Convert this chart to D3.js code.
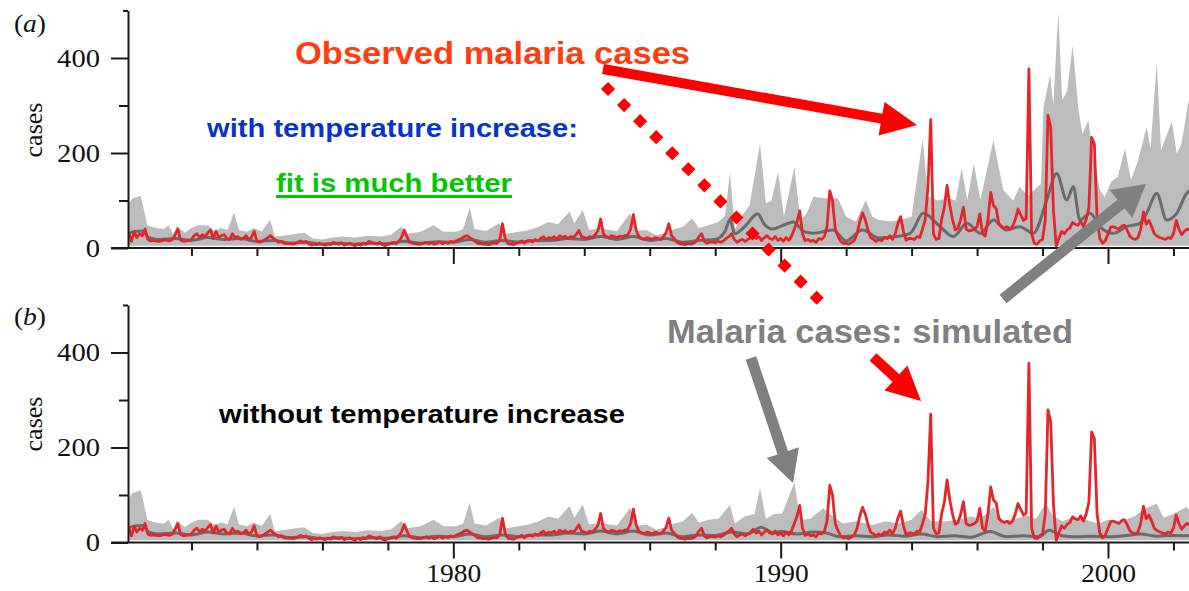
<!DOCTYPE html>
<html><head><meta charset="utf-8">
<script src="https://cdn.jsdelivr.net/npm/d3@7"></script>
<style>body{margin:0;background:#fff}svg{display:block}</style>
</head><body>
<svg id="chart" width="1189" height="591"></svg>
<script>
// ---------- DATA ----------
const startYear = 1970;               // observed series: monthly values from Jan 1970
const observed = [
  20,32,14,34,22,30,26,40,18,15,16,15,   // 1970
  14,15,17,16,15,18,28,40,17,14,15,16,   // 1971
  18,26,30,22,28,24,32,38,20,35,22,26,   // 1972
  28,20,18,30,22,24,18,20,26,18,22,35,   // 1973
  14,12,14,18,22,26,20,16,12,14,10,9,    // 1974
  10,8,9,12,15,12,14,9,6,8,7,10,         // 1975
  8,6,9,7,12,10,8,11,6,8,10,7,           // 1976
  5,9,6,10,8,14,12,10,8,12,7,5,          // 1977
  8,10,12,9,14,22,38,24,12,10,9,8,       // 1978
  8,10,12,9,11,8,10,13,9,12,10,14,       // 1979
  12,15,18,20,24,26,22,18,14,10,9,8,     // 1980
  8,7,9,11,10,16,51,20,9,8,7,10,         // 1981
  12,15,10,14,16,13,18,15,20,24,18,22,   // 1982
  20,24,18,26,22,25,20,24,22,28,37,24,   // 1983
  22,20,24,22,28,36,61,30,24,22,26,24,   // 1984
  22,25,24,26,28,40,70,38,24,20,18,22,   // 1985
  20,18,22,20,18,24,32,51,26,20,12,9,    // 1986
  8,7,9,8,10,14,24,30,14,10,12,13,       // 1987
  11,14,12,15,20,24,30,18,12,16,18,14,   // 1988
  18,22,28,20,24,16,22,26,20,18,24,16,   // 1989
  20,14,22,16,25,40,55,78,30,15,18,14,   // 1990
  16,12,20,18,24,45,120,100,40,25,14,10, // 1991
  10,8,12,16,30,55,74,60,38,22,18,14,    // 1992
  18,15,22,20,26,18,30,52,66,35,16,20,   // 1993
  20,18,24,22,40,60,128,270,30,18,20,60, // 1994
  85,132,90,60,38,42,60,86,40,36,37,40,  // 1995
  45,72,30,25,60,117,90,83,50,45,42,45,  // 1996
  40,45,60,82,70,58,62,377,30,10,8,15,   // 1997
  18,60,279,254,80,5,20,35,30,38,42,54,  // 1998
  50,48,56,45,60,85,233,219,60,20,10,15, // 1999
  30,44,45,42,40,46,48,38,25,20,18,22,   // 2000
  40,76,50,58,45,30,25,22,20,18,22,20,   // 2001
  30,58,40,28,35,40,38                   // 2002
];

// simulated band (upper bound), shared part 1970-1987
const upperEarly = [[1970.0,60],[1970.05,92],[1970.2,104],[1970.45,110],[1970.55,80],[1970.65,48],[1970.9,42],[1971.15,40],[1971.3,48],[1971.45,28],[1971.55,46],[1971.8,32],[1972.0,42],[1972.2,48],[1972.5,48],[1972.7,36],[1972.9,42],[1973.1,38],[1973.3,75],[1973.45,38],[1973.7,34],[1973.9,42],[1974.15,35],[1974.4,60],[1974.55,24],[1974.8,26],[1975.2,30],[1975.45,32],[1975.7,20],[1976.0,18],[1976.3,22],[1976.6,24],[1977.0,22],[1977.4,26],[1977.8,24],[1978.1,28],[1978.4,45],[1978.6,30],[1979.0,34],[1979.4,48],[1979.7,34],[1980.1,34],[1980.3,40],[1980.5,84],[1980.65,40],[1981.0,36],[1981.4,52],[1981.6,30],[1982.0,34],[1982.3,38],[1982.6,44],[1982.9,55],[1983.2,50],[1983.55,77],[1983.7,52],[1983.95,80],[1984.15,38],[1984.5,42],[1984.75,38],[1985.0,36],[1985.4,73],[1985.6,36],[1985.9,38],[1986.2,27],[1986.5,32],[1986.75,40],[1987.0,44],[1987.3,62],[1987.5,42],[1987.8,48]];
// (a) with temperature increase
const upperLateA = [[1988.1,55],[1988.3,68],[1988.45,159],[1988.6,40],[1988.8,66],[1989.05,90],[1989.37,220],[1989.55,94],[1989.72,100],[1989.92,161],[1990.1,66],[1990.42,171],[1990.6,59],[1990.8,73],[1991.0,108],[1991.3,105],[1991.75,105],[1992.0,66],[1992.3,56],[1992.6,101],[1992.8,66],[1993.0,59],[1993.4,56],[1993.7,60],[1994.0,66],[1994.34,230],[1994.5,108],[1994.8,100],[1995.1,105],[1995.35,100],[1995.53,168],[1995.7,101],[1995.9,178],[1996.1,101],[1996.5,227],[1996.8,122],[1997.1,100],[1997.3,129],[1997.55,110],[1997.95,135],[1998.03,297],[1998.23,364],[1998.33,300],[1998.48,497],[1998.6,311],[1998.75,330],[1998.92,427],[1999.1,290],[1999.22,240],[1999.4,269],[1999.55,192],[1999.75,122],[1999.9,108],[2000.1,140],[2000.3,150],[2000.52,210],[2000.7,143],[2000.9,180],[2001.18,255],[2001.3,210],[2001.49,392],[2001.62,206],[2001.95,266],[2002.1,199],[2002.25,220],[2002.46,311],[2002.6,250]];
// (b) without temperature increase
const upperLateB = [[1988.1,50],[1988.45,79],[1988.6,40],[1988.9,55],[1989.2,60],[1989.37,114],[1989.55,50],[1989.8,60],[1990.05,61],[1990.42,127],[1990.6,47],[1990.9,50],[1991.3,72],[1991.6,55],[1991.9,40],[1992.3,45],[1992.8,37],[1993.2,45],[1993.6,40],[1994.0,48],[1994.3,69],[1994.6,45],[1995.0,44],[1995.4,48],[1995.8,55],[1996.1,50],[1996.5,75],[1996.8,45],[1997.2,50],[1997.5,58],[1997.8,50],[1998.1,82],[1998.3,58],[1998.6,45],[1998.9,52],[1999.3,48],[1999.7,40],[2000.0,48],[2000.4,45],[2000.8,55],[2001.1,70],[2001.49,82],[2001.7,52],[2002.0,60],[2002.4,75],[2002.6,60]];
const bandLower = 5;

// simulated median
const medianEarly = [[1970.0,26],[1970.2,34],[1970.5,36],[1970.7,22],[1971.0,18],[1971.5,20],[1972.0,16],[1972.5,22],[1973.0,18],[1973.5,20],[1974.0,14],[1974.5,16],[1975.0,10],[1975.5,12],[1976.0,8],[1976.5,10],[1977.0,8],[1977.5,10],[1978.0,9],[1978.5,14],[1979.0,10],[1979.5,13],[1980.0,12],[1980.5,18],[1981.0,12],[1981.5,16],[1982.0,12],[1982.5,16],[1983.0,16],[1983.5,20],[1984.0,18],[1984.5,24],[1985.0,18],[1985.5,24],[1986.0,16],[1986.5,20],[1987.0,12],[1987.5,16]];
const medianLateA = [[1988.0,18],[1988.3,35],[1988.45,60],[1988.6,30],[1988.9,45],[1989.3,72],[1989.5,50],[1989.75,40],[1989.98,45],[1990.39,55],[1990.7,35],[1991.0,31],[1991.6,38],[1992.0,15],[1992.5,38],[1993.0,21],[1993.55,24],[1993.96,31],[1994.36,73],[1994.87,45],[1995.28,24],[1995.69,52],[1996.1,31],[1996.5,59],[1996.9,38],[1997.3,45],[1997.72,31],[1998.13,101],[1998.43,157],[1998.74,101],[1998.94,129],[1999.14,59],[1999.45,73],[1999.75,45],[2000.16,31],[2000.57,45],[2000.98,52],[2001.18,73],[2001.49,115],[2001.79,59],[2002.1,73],[2002.4,115],[2002.6,125]];
const medianLateB = [[1988.0,15],[1988.5,22],[1989.0,18],[1989.4,32],[1989.8,20],[1990.0,23],[1990.5,18],[1991.0,22],[1991.4,20],[1991.8,12],[1992.3,14],[1992.8,12],[1993.3,16],[1993.8,13],[1994.3,18],[1994.8,12],[1995.3,14],[1995.8,11],[1996.4,23],[1996.9,12],[1997.4,14],[1997.9,12],[1998.2,26],[1998.6,14],[1999.0,12],[1999.5,13],[2000.0,12],[2000.5,14],[2001.0,18],[2001.5,13],[2002.0,15],[2002.6,14]];

const yMajorTicks = [0, 200, 400];
const yMinorTicks = [100, 300];
const yTopTick = [500];
const xMinorYears = [1972,1974,1976,1978,1982,1984,1986,1988,1992,1994,1996,1998,2002];
const xMajorYears = [1980, 1990, 2000];
const panelLabels = ["a", "b"];
const yLabel = "cases";

// ---------- DRAW ----------
const svg = d3.select("#chart");
const W = 1189;
const x = d3.scaleLinear().domain([1970, 2000]).range([126, 1108]);
const serif = "'Liberation Serif','Times New Roman',serif";
const sans = "'Liberation Sans',Arial,sans-serif";

const obsPoints = observed.map((v, i) => [startYear + i / 12, v]);

const panels = [
  {y: d3.scaleLinear().domain([0, 500]).range([248, 10.5]), upper: upperEarly.concat(upperLateA), median: medianEarly.concat(medianLateA), labelY: 32, casesY: 130, xLabels: false},
  {y: d3.scaleLinear().domain([0, 500]).range([542.5, 305]), upper: upperEarly.concat(upperLateB), median: medianEarly.concat(medianLateB), labelY: 325, casesY: 424, xLabels: true}
];

svg.append("defs").append("clipPath").attr("id", "clip")
  .append("rect").attr("x", 128).attr("y", 0).attr("width", W - 128).attr("height", 591);

panels.forEach((p, pi) => {
  const g = svg.append("g");
  const dg = g.append("g").attr("clip-path", "url(#clip)");
  dg.append("path").datum(p.upper)
    .attr("d", d3.area().x(d => x(d[0])).y0(p.y(bandLower)).y1(d => p.y(d[1])))
    .attr("fill", "#bcbcbc");
  dg.append("path").datum(p.median)
    .attr("d", d3.line().x(d => x(d[0])).y(d => p.y(d[1])).curve(d3.curveMonotoneX))
    .attr("fill", "none").attr("stroke", "#6a6a6a").attr("stroke-width", 3);
  dg.append("path").datum(obsPoints)
    .attr("d", d3.line().x(d => x(d[0])).y(d => p.y(d[1])))
    .attr("fill", "none").attr("stroke", "#e4262c").attr("stroke-width", 2.8)
    .attr("stroke-linejoin", "round");

  const ya = g.append("g").attr("transform", "translate(128,0)");
  ya.call(d3.axisLeft(p.y).tickValues(yMajorTicks).tickSize(17).tickPadding(11).tickSizeOuter(0));
  const ym = g.append("g").attr("transform", "translate(128,0)");
  ym.call(d3.axisLeft(p.y).tickValues(yMinorTicks).tickSize(9).tickFormat(""));
  const yt = g.append("g").attr("transform", "translate(128,0)");
  yt.call(d3.axisLeft(p.y).tickValues(yTopTick).tickSize(5).tickFormat(""));
  ym.select(".domain").remove();
  yt.select(".domain").remove();
  ya.selectAll(".tick text").each(function() {
    const t = d3.select(this);
    t.attr("textLength", t.text().length * 14.3).attr("lengthAdjust", "spacingAndGlyphs");
  });

  const y0 = p.y(0);
  const xm = g.append("g").attr("transform", `translate(0,${y0})`);
  xm.call(d3.axisBottom(x).tickValues(xMinorYears).tickSize(8).tickFormat(""));
  const xM = g.append("g").attr("transform", `translate(0,${y0})`);
  xM.call(d3.axisBottom(x).tickValues(xMajorYears).tickSize(16).tickPadding(6)
    .tickFormat(p.xLabels ? d3.format("d") : ""));
  xm.select(".domain").remove();
  xM.select(".domain").remove();
  xM.selectAll(".tick text").attr("textLength", 55).attr("lengthAdjust", "spacingAndGlyphs");
  g.append("line").attr("x1", 111).attr("x2", W).attr("y1", y0).attr("y2", y0)
    .attr("stroke", "#1a1a1a").attr("stroke-width", 2);

  g.selectAll(".tick line").attr("stroke", "#1a1a1a").attr("stroke-width", 2);
  g.selectAll(".domain").attr("stroke", "#1a1a1a").attr("stroke-width", 2);
  g.selectAll(".tick text").style("font-family", serif).style("font-size", "25px").attr("fill", "#111");

  g.append("text").attr("transform", `translate(41.5,${p.casesY}) rotate(-90)`)
    .attr("text-anchor", "middle").style("font-family", serif).style("font-size", "26px")
    .attr("fill", "#111").text(yLabel);
  const pl = g.append("text").attr("x", 14).attr("y", p.labelY)
    .style("font-family", serif).style("font-size", "25px").attr("fill", "#111")
    .attr("textLength", 32).attr("lengthAdjust", "spacingAndGlyphs");
  pl.append("tspan").text("(");
  pl.append("tspan").attr("font-style", "italic").text(panelLabels[pi]);
  pl.append("tspan").text(")");
});

// ---------- ANNOTATIONS ----------
const ann = svg.append("g");
function arrow(x1, y1, x2, y2, bw, hl, hw, color) {
  const L = Math.hypot(x2 - x1, y2 - y1), ux = (x2 - x1) / L, uy = (y2 - y1) / L;
  const px = -uy, py = ux, bx = x2 - ux * hl, by = y2 - uy * hl;
  const pts = [
    [x1 + px * bw / 2, y1 + py * bw / 2], [bx + px * bw / 2, by + py * bw / 2],
    [bx + px * hw / 2, by + py * hw / 2], [x2, y2],
    [bx - px * hw / 2, by - py * hw / 2], [bx - px * bw / 2, by - py * bw / 2],
    [x1 - px * bw / 2, y1 - py * bw / 2]
  ];
  ann.append("polygon").attr("points", pts.map(q => q.join(",")).join(" ")).attr("fill", color);
}
arrow(603, 69, 917, 125, 10, 36, 34, "#ff0000");
ann.append("line").attr("x1", 604.5).attr("y1", 85.5).attr("x2", 820.2).attr("y2", 301.2)
  .attr("stroke", "#ff0000").attr("stroke-width", 10).attr("stroke-dasharray", "10 12.7");
arrow(873, 357, 921, 401, 10, 34, 34, "#ff0000");
arrow(1003, 299, 1146, 184, 11, 32, 36, "#808080");
arrow(751, 358, 793, 483, 11, 32, 34, "#808080");

function label(txt, x0, base, len, size, color) {
  return ann.append("text").attr("x", x0).attr("y", base).style("font-family", sans)
    .style("font-weight", "bold").style("font-size", size + "px").attr("fill", color)
    .attr("textLength", len).attr("lengthAdjust", "spacingAndGlyphs").text(txt);
}
label("Observed malaria cases", 295, 64, 395, 32, "#ff3d10");
label("with temperature increase:", 207, 137, 371, 25, "#0a34c8");
label("fit is much better", 276, 192, 236, 25, "#00c800");
ann.append("rect").attr("x", 276).attr("y", 195).attr("width", 236).attr("height", 3).attr("fill", "#00c800");
label("Malaria cases: simulated", 667, 343, 406, 33, "#808080");
label("without temperature increase", 219, 423, 406, 25, "#000000");
</script>
</body></html>
